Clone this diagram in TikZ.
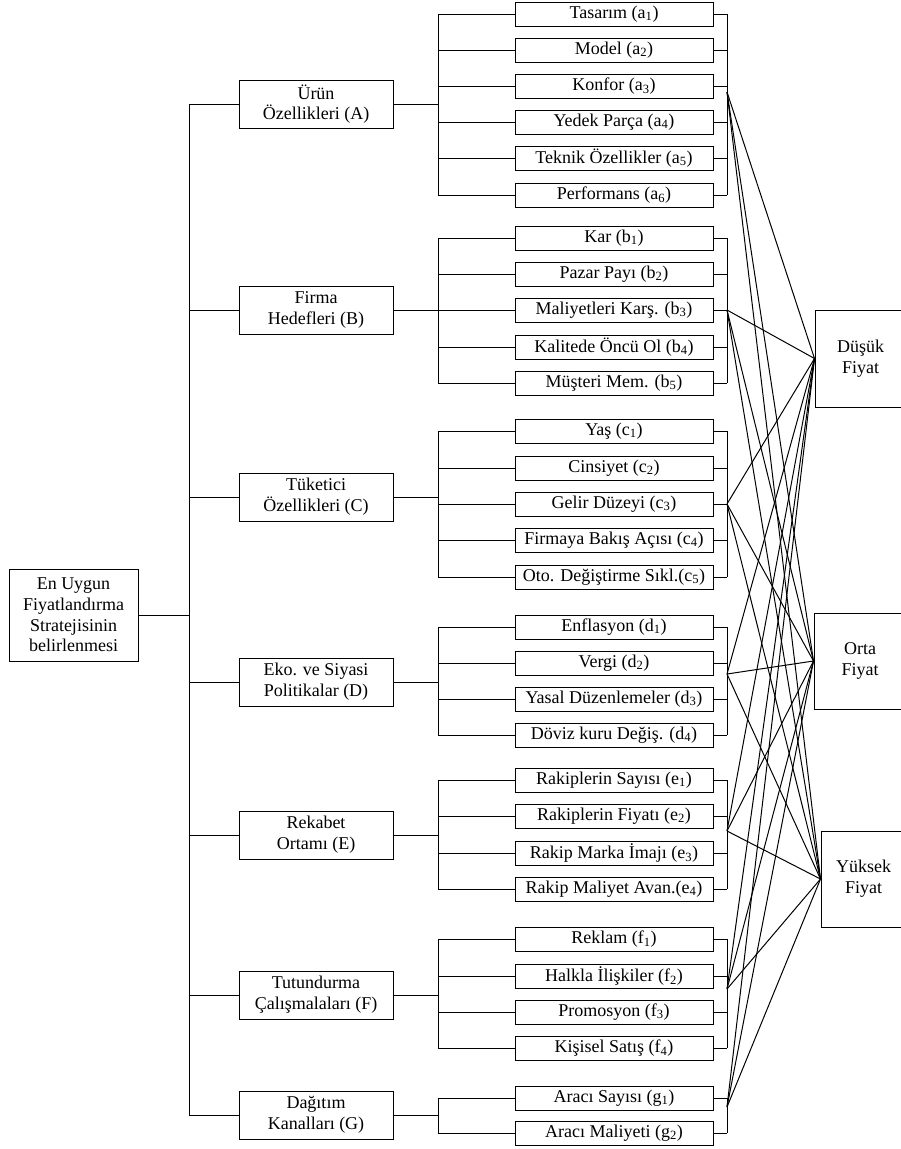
\documentclass[tikz,border=0pt]{standalone}
\usepackage{fontspec}
\setmainfont{Liberation Serif}
\usepackage{tikz}

\begin{document}
\begin{tikzpicture}[x=1pt,y=-1pt]
\tikzstyle{boxPlain} = [
  shape=rectangle,
  draw=black,
  line width=1,
  inner sep=0pt,
  align=center,
  font=\fontsize{18}{20.7}\selectfont
]
\tikzstyle{boxRoot} = [boxPlain, minimum width=129, minimum height=92]
\tikzstyle{boxCat} = [boxPlain, minimum width=154, minimum height=48]
\tikzstyle{boxSub} = [boxPlain, minimum width=198, minimum height=24]
\tikzstyle{tedge} = [
  draw=black,
  line width=1,
]

\useasboundingbox (0,0) rectangle (901,1149);

% root and categories
\node[boxRoot] (root) at (73.5,615) {En Uygun\\Fiyatlandırma\\Stratejisinin\\belirlenmesi};

\node[boxCat] (A) at (316,104) {Ürün\\Özellikleri (A)};
\node[boxCat] (B) at (316,310) {Firma\\Hedefleri (B)};
\node[boxCat] (C) at (316,497) {Tüketici\\Özellikleri (C)};
\node[boxCat] (D) at (316,682) {Eko. ve Siyasi\\Politikalar (D)};
\node[boxCat] (E) at (316,835) {Rekabet\\Ortamı (E)};
\node[boxCat] (F) at (316,995) {Tutundurma\\Çalışmalaları (F)};
\node[boxCat] (G) at (316,1115) {Dağıtım\\Kanalları (G)};

% criteria
\node[boxSub] (a1) at (614,14) {Tasarım (a\textsubscript{1})};
\node[boxSub] (a2) at (614,50) {Model (a\textsubscript{2})};
\node[boxSub] (a3) at (614,86) {Konfor (a\textsubscript{3})};
\node[boxSub] (a4) at (614,122) {Yedek Parça (a\textsubscript{4})};
\node[boxSub] (a5) at (614,158) {Teknik Özellikler (a\textsubscript{5})};
\node[boxSub] (a6) at (614,195) {Performans (a\textsubscript{6})};

\node[boxSub] (b1) at (614,238) {Kar (b\textsubscript{1})};
\node[boxSub] (b2) at (614,274) {Pazar Payı (b\textsubscript{2})};
\node[boxSub] (b3) at (614,310) {Maliyetleri Karş. (b\textsubscript{3})};
\node[boxSub] (b4) at (614,347) {Kalitede Öncü Ol (b\textsubscript{4})};
\node[boxSub] (b5) at (614,383) {Müşteri Mem. (b\textsubscript{5})};

\node[boxSub] (c1) at (614,431) {Yaş (c\textsubscript{1})};
\node[boxSub] (c2) at (614,468) {Cinsiyet (c\textsubscript{2})};
\node[boxSub] (c3) at (614,504) {Gelir Düzeyi (c\textsubscript{3})};
\node[boxSub] (c4) at (614,540) {Firmaya Bakış Açısı (c\textsubscript{4})};
\node[boxSub] (c5) at (614,577) {Oto. Değiştirme Sıkl.(c\textsubscript{5})};

\node[boxSub] (d1) at (614,627) {Enflasyon (d\textsubscript{1})};
\node[boxSub] (d2) at (614,663) {Vergi (d\textsubscript{2})};
\node[boxSub] (d3) at (614,699) {Yasal Düzenlemeler (d\textsubscript{3})};
\node[boxSub] (d4) at (614,735) {Döviz kuru Değiş. (d\textsubscript{4})};

\node[boxSub] (e1) at (614,780) {Rakiplerin Sayısı (e\textsubscript{1})};
\node[boxSub] (e2) at (614,816) {Rakiplerin Fiyatı (e\textsubscript{2})};
\node[boxSub] (e3) at (614,853) {Rakip Marka İmajı (e\textsubscript{3})};
\node[boxSub] (e4) at (614,889) {Rakip Maliyet Avan.(e\textsubscript{4})};

\node[boxSub] (f1) at (614,939) {Reklam (f\textsubscript{1})};
\node[boxSub] (f2) at (614,976) {Halkla İlişkiler (f\textsubscript{2})};
\node[boxSub] (f3) at (614,1012) {Promosyon (f\textsubscript{3})};
\node[boxSub] (f4) at (614,1048) {Kişisel Satış (f\textsubscript{4})};

\node[boxSub] (g1) at (614,1098) {Aracı Sayısı (g\textsubscript{1})};
\node[boxSub] (g2) at (614,1133) {Aracı Maliyeti (g\textsubscript{2})};

% price alternatives
\node[boxPlain, minimum width=91, minimum height=97] (low) at (860.5,358.5) {Düşük\\Fiyat};
\node[boxPlain, minimum width=92, minimum height=96] (mid) at (860,661) {Orta\\Fiyat};
\node[boxPlain, minimum width=85, minimum height=96] (high) at (863.5,879) {Yüksek\\Fiyat};

% buses
\coordinate (bus) at (189,0);
\coordinate (lbus) at (438,0);
\coordinate (rbus) at (727,0);

\draw[tedge] (root.east) -- (root.east -| bus);
\draw[tedge] (A.west -| bus) -- (G.west -| bus);
\foreach \c in {A,...,G}
  \draw[tedge] (\c.west) -- (\c.west -| bus) (\c.east) -- (\c.east -| lbus);

\foreach \g/\n in {a/6,b/5,c/5,d/4,e/4,f/4,g/2} {
  \foreach \i in {1,...,\n}
    \draw[tedge] (\g\i.west) -- (\g\i.west -| lbus) (\g\i.east) -- (\g\i.east -| rbus);
  \draw[tedge] (\g1.west -| lbus) -- (\g\n.west -| lbus);
  \draw[tedge] (\g1.east -| rbus) -- (\g\n.east -| rbus);
}

% links to alternatives
\coordinate (hubA) at (727,92);
\coordinate (hubB) at (727,310);
\coordinate (hubC) at (727,504);
\coordinate (hubD) at (727,674);
\coordinate (hubE) at (727,831);
\coordinate (hubF) at (727,989);
\coordinate (hubG) at (727,1107);

\foreach \c in {A,...,G}
  \foreach \p in {low,mid,high}
    \draw[tedge] (hub\c) -- (\p.west);

\end{tikzpicture}
\end{document}
